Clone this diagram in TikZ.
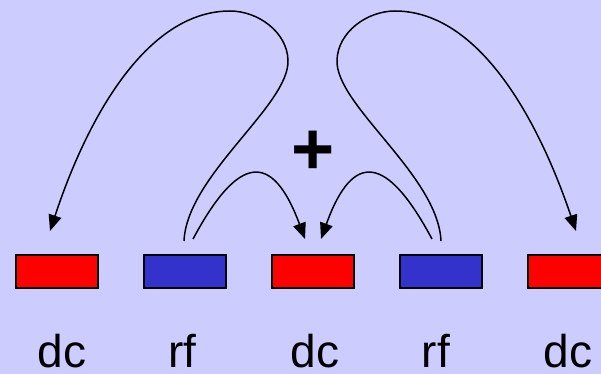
\documentclass[tikz,border=0pt]{standalone}
\usepackage{fontspec}
\setmainfont{Liberation Sans}
\usetikzlibrary{arrows.meta}
\definecolor{bgc}{HTML}{CCCCFF}
\definecolor{dcred}{HTML}{FF0000}
\definecolor{rfblue}{HTML}{3333CC}
\tikzset{
  cell/.style={draw=black, line width=1.6pt, minimum width=82pt, minimum height=33pt, inner sep=0pt},
  dccell/.style={cell, fill=dcred},
  rfcell/.style={cell, fill=rfblue},
  lbl/.style={anchor=base, inner sep=0pt, font=\fontsize{46}{50}\selectfont},
  conn/.style={line width=1.5pt, -{Triangle[length=16pt,width=13pt]}},
  plain/.style={line width=1.5pt}
}
\begin{document}
\begin{tikzpicture}[x=1pt,y=-1pt]
\clip (0,0) rectangle (601,374);
\fill[bgc] (0,0) rectangle (601,374);
% cells
\node[dccell] (d1) at (57,271.5) {};
\node[rfcell] (r1) at (185,271.5) {};
\node[dccell] (d2) at (313,271.5) {};
\node[rfcell] (r2) at (441,271.5) {};
\node[dccell] (d3) at (569,271.5) {};
% labels
\node[lbl] (l1) at (62,367) {dc};
\node[lbl] (l2) at (182.5,367) {rf};
\node[lbl] (l3) at (315,367) {dc};
\node[lbl] (l4) at (436,367) {rf};
\node[lbl] (l5) at (568,367) {dc};
% plus
\node[inner sep=0pt, font=\bfseries\fontsize{74}{74}\selectfont] (plus) at (313.5,153) {+};
% connector anchor points
\coordinate (r1a) at (184,241);
\coordinate (r1b) at (193,239);
\coordinate (r2a) at (441,241);
\coordinate (r2b) at (432,239);
\coordinate (d1t) at (50,231);
\coordinate (d2l) at (305,239);
\coordinate (d2r) at (321,239);
\coordinate (d3t) at (576,231);
% big loops
\draw[conn] (r1a) .. controls (187,175) and (290,105) .. (288,60)
  .. controls (287,32) and (258,11) .. (230,11)
  .. controls (150,11) and (90,110) .. (d1t);
\draw[conn] (r2a) .. controls (438,175) and (335,105) .. (337,60)
  .. controls (338,32) and (367,11) .. (395,11)
  .. controls (475,11) and (535,110) .. (d3t);
% small arcs
\draw[conn] (r1b) .. controls (238,155) and (272,150) .. (d2l);
\draw[conn] (r2b) .. controls (387,155) and (353,150) .. (d2r);
\end{tikzpicture}
\end{document}
